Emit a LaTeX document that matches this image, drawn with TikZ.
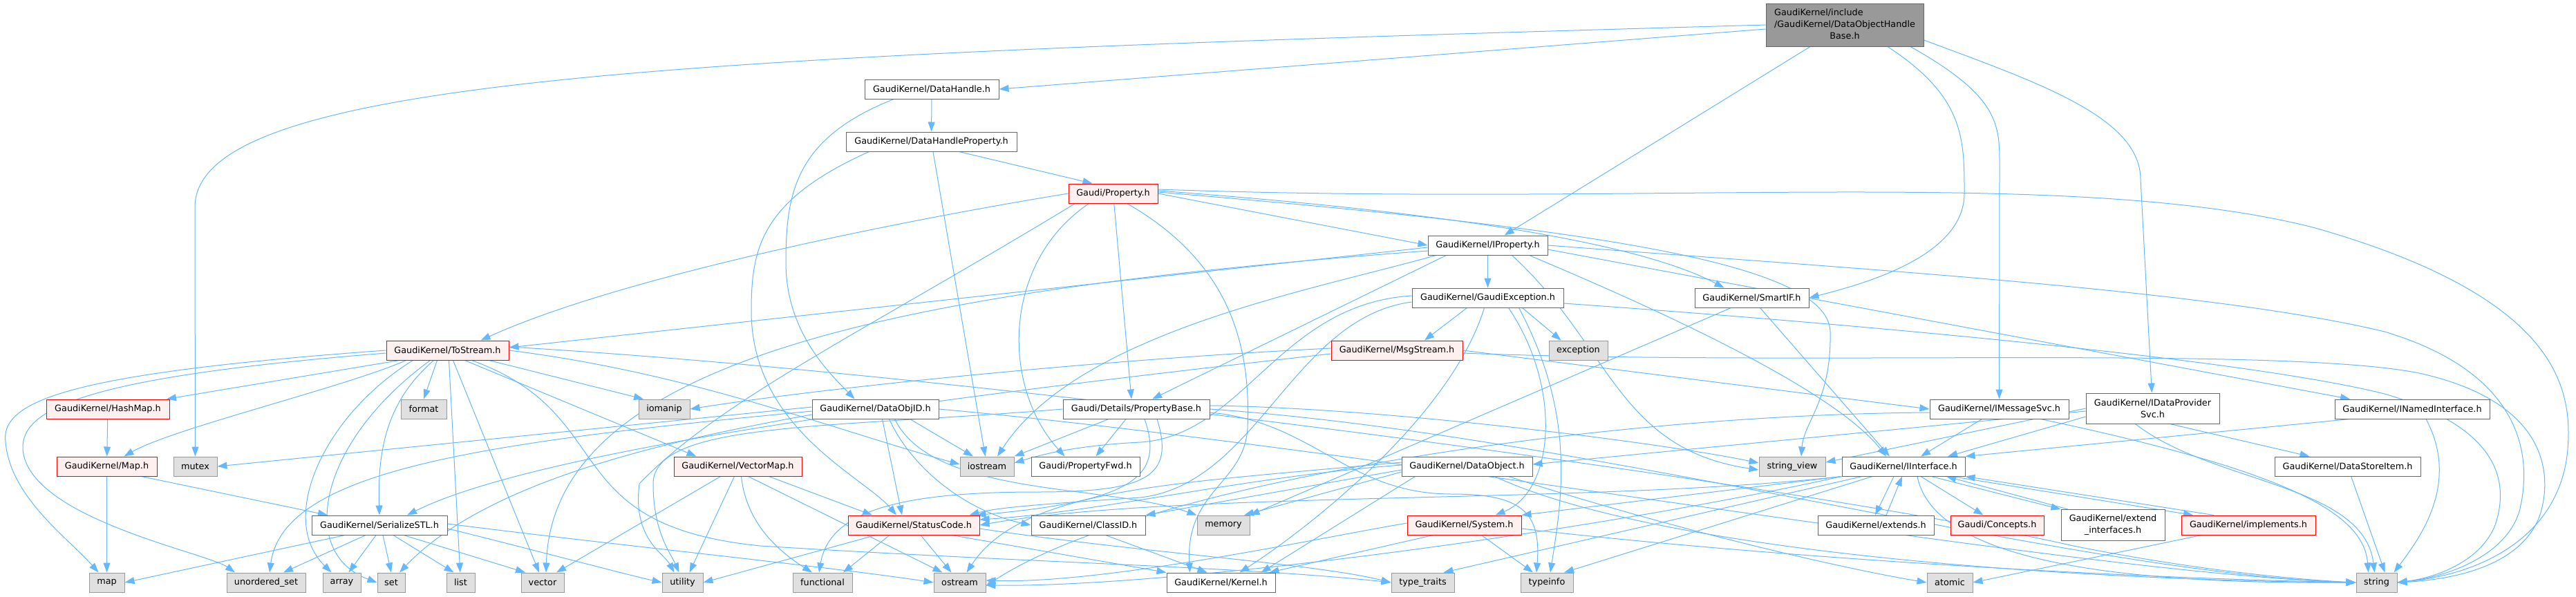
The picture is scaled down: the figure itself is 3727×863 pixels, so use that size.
\documentclass[tikz,border=0pt]{standalone}
\usepackage{fontspec}
\setmainfont{DejaVu Sans}
\usetikzlibrary{arrows.meta}
\definecolor{edgeblue}{HTML}{63B8FF}
\definecolor{boxline}{HTML}{666666}
\definecolor{sysline}{HTML}{999999}
\definecolor{sysfill}{HTML}{E0E0E0}
\definecolor{redfill}{HTML}{FFF0F0}
\definecolor{topfill}{HTML}{999999}
\pgfdeclarelayer{edges}
\pgfsetlayers{edges,main}

\begin{document}
\begin{tikzpicture}[
  x=1pt, y=-1pt,
  >={Triangle[length=14pt,width=10pt]},
  dep/.style={->, draw=edgeblue, line width=1pt},
  file/.style={draw=boxline, fill=white, line width=1pt, minimum height=28pt,
    inner sep=2pt, font=\fontsize{12.8pt}{17pt}\selectfont},
  redfile/.style={file, draw=red, fill=redfill},
  stdfile/.style={file, draw=sysline, fill=sysfill}
]
\useasboundingbox (0,0) rectangle (3727,863);

% files of the graph
\node[file, fill=topfill, minimum width=228pt, minimum height=62pt] (top) at (2669,36)
  {\begin{tabular}{@{}l@{}}GaudiKernel/include\\/GaudiKernel/DataObjectHandle\\\multicolumn{1}{@{}c@{}}{Base.h}\end{tabular}};
\node[file, minimum width=194pt] (dhandle) at (1348,129) {GaudiKernel/DataHandle.h};
\node[file, minimum width=247pt] (dhprop) at (1347.5,205) {GaudiKernel/DataHandleProperty.h};
\node[redfile, minimum width=129pt] (property) at (1610.5,280) {Gaudi/Property.h};
\node[file, minimum width=173pt] (iprop) at (2152.5,355) {GaudiKernel/IProperty.h};
\node[file, minimum width=219pt] (gexcept) at (2152.5,431) {GaudiKernel/GaudiException.h};
\node[file, minimum width=165pt] (smartif) at (2534.5,431) {GaudiKernel/SmartIF.h};
\node[redfile, minimum width=177pt] (tostream) at (647.5,507) {GaudiKernel/ToStream.h};
\node[redfile, minimum width=190pt] (msgstream) at (2021,507) {GaudiKernel/MsgStream.h};
\node[stdfile, minimum width=85pt] (sexception) at (2283.5,507) {exception};
\node[redfile, minimum width=178pt] (hashmap) at (156,592) {GaudiKernel/HashMap.h};
\node[stdfile, minimum width=66pt] (sformat) at (613,592) {format};
\node[stdfile, minimum width=74pt] (siomanip) at (961,592) {iomanip};
\node[file, minimum width=183pt] (dataobjid) at (1266.5,592) {GaudiKernel/DataObjID.h};
\node[file, minimum width=212pt] (propbase) at (1644,592) {Gaudi/Details/PropertyBase.h};
\node[file, minimum width=201pt] (imsgsvc) at (2892.5,592) {GaudiKernel/IMessageSvc.h};
\node[file, minimum width=193pt, minimum height=44pt, align=center] (idpsvc) at (3114.5,591) {GaudiKernel/IDataProvider\\Svc.h};
\node[file, minimum width=224pt] (inamed) at (3490,592) {GaudiKernel/INamedInterface.h};
\node[redfile, minimum width=145pt] (mapk) at (154.5,675) {GaudiKernel/Map.h};
\node[stdfile, minimum width=63pt] (smutex) at (282.5,675) {mutex};
\node[redfile, minimum width=185pt] (vectormap) at (1067.5,675) {GaudiKernel/VectorMap.h};
\node[stdfile, minimum width=78pt] (siostream) at (1428,675) {iostream};
\node[file, minimum width=157pt] (propfwd) at (1570.5,675) {Gaudi/PropertyFwd.h};
\node[file, minimum width=189pt] (dataobject) at (2122.5,675) {GaudiKernel/DataObject.h};
\node[stdfile, minimum width=96pt] (sstringview) at (2593,675) {string\_view};
\node[file, minimum width=178pt] (iinterface) at (2754,675) {GaudiKernel/IInterface.h};
\node[file, minimum width=211pt] (datastoreitem) at (3396.5,675) {GaudiKernel/DataStoreItem.h};
\node[file, minimum width=196pt] (serialize) at (549,760) {GaudiKernel/SerializeSTL.h};
\node[redfile, minimum width=190pt] (statuscode) at (1322,760) {GaudiKernel/StatusCode.h};
\node[file, minimum width=165pt] (classid) at (1574.5,760) {GaudiKernel/ClassID.h};
\node[stdfile, minimum width=76pt] (smemory) at (1770,760) {memory};
\node[redfile, minimum width=165pt] (system) at (2118.5,760) {GaudiKernel/System.h};
\node[file, minimum width=168pt] (extends) at (2714,760) {GaudiKernel/extends.h};
\node[redfile, minimum width=135pt] (concepts) at (2889.5,760) {Gaudi/Concepts.h};
\node[file, minimum width=150pt, minimum height=45pt, align=center] (extendif) at (3057,760) {GaudiKernel/extend\\\_interfaces.h};
\node[redfile, minimum width=194pt] (implements) at (3253,760) {GaudiKernel/implements.h};
\node[stdfile, minimum width=51pt] (smap) at (154.5,843) {map};
\node[stdfile, minimum width=114pt] (suset) at (385,843) {unordered\_set};
\node[stdfile, minimum width=55pt] (sarray) at (494.5,843) {array};
\node[stdfile, minimum width=40pt] (sset) at (566,843) {set};
\node[stdfile, minimum width=41pt] (slist) at (666.5,843) {list};
\node[stdfile, minimum width=62pt] (svector) at (785,843) {vector};
\node[stdfile, minimum width=59pt] (sutility) at (987.5,843) {utility};
\node[stdfile, minimum width=86pt] (sfunctional) at (1190,843) {functional};
\node[stdfile, minimum width=75pt] (sostream) at (1388.5,843) {ostream};
\node[file, minimum width=157pt] (kernel) at (1766.5,843) {GaudiKernel/Kernel.h};
\node[stdfile, minimum width=91pt] (stypetraits) at (2058.5,843) {type\_traits};
\node[stdfile, minimum width=76pt] (stypeinfo) at (2238,843) {typeinfo};
\node[stdfile, minimum width=66pt] (satomic) at (2821,843) {atomic};
\node[stdfile, minimum width=59pt] (sstring) at (3438.5,843) {string};

\begin{pgfonlayer}{edges}
% DataObjectHandleBase.h
\draw[dep] (top.west) .. controls (1000,80) and (282,110) .. (282,300) -- (smutex);
\draw[dep] ([yshift=-6pt]top.west) -- (dhandle.east);
\draw[dep] ([xshift=-50pt]top.south) -- ([xshift=24pt]iprop.north);
\draw[dep] ([xshift=62pt]top.south) .. controls (2842,140) and (2842,200) .. (2842,280) .. controls (2842,370) and (2700,410) .. (smartif.east);
\draw[dep] ([xshift=95pt]top.south) .. controls (2893,140) and (2893,180) .. (2893,240) -- (imsgsvc);
\draw[dep] ([yshift=-22pt]top.east) .. controls (2950,120) and (3097,170) .. (3097,260) -- (idpsvc);
% DataHandle.h
\draw[dep] (dhandle) -- (dhprop);
\draw[dep] ([xshift=-55pt]dhandle.south) .. controls (1150,200) and (1137,280) .. (1137,380) .. controls (1137,480) and (1200,540) .. ([xshift=-30pt]dataobjid.north);
% DataHandleProperty.h
\draw[dep] ([xshift=40pt]dhprop.south) -- ([xshift=-30pt]property.north);
\draw[dep] (dhprop) -- (siostream);
\draw[dep] ([xshift=-90pt]dhprop.south) .. controls (1100,290) and (1087,360) .. (1087,450) .. controls (1087,620) and (1250,690) .. ([xshift=-25pt]statuscode.north);
% Property.h
\draw[dep] (property.west) .. controls (1300,320) and (900,400) .. ([xshift=48pt]tostream.north);
\draw[dep] (property.east) -- (iprop.west);
\draw[dep] ([yshift=4pt]property.east) .. controls (2000,300) and (2350,340) .. ([xshift=-40pt]smartif.north);
\draw[dep] (property) -- ([xshift=-7pt]propbase.north);
\draw[dep] ([xshift=-35pt]property.south) .. controls (1449,380) and (1449,560) .. ([xshift=-30pt]propfwd.north);
\draw[dep] ([xshift=20pt]property.south) .. controls (1780,380) and (1810,500) .. (1805,620) .. controls (1800,700) and (1715,710) .. ([xshift=-45pt]kernel.north);
\draw[dep] ([yshift=6pt]property.east) .. controls (2400,300) and (3000,240) .. (3350,330) .. controls (3700,430) and (3722,560) .. (3715,650) .. controls (3705,770) and (3600,830) .. (sstring.east);
\draw[dep] ([yshift=2pt]property.east) .. controls (2300,330) and (2645,380) .. (2648,480) .. controls (2650,580) and (2610,610) .. ([xshift=13pt]sstringview.north);
\draw[dep] ([xshift=-55pt]property.south) .. controls (1250,480) and (1040,580) .. (925,700) .. controls (915,780) and (960,800) .. ([xshift=-12pt]sutility.north);
% IProperty.h
\draw[dep] (iprop) -- (gexcept);
\draw[dep] ([xshift=60pt]iprop.south) .. controls (2380,440) and (2650,560) .. ([xshift=-25pt]iinterface.north);
\draw[dep] ([xshift=35pt]iprop.south) .. controls (2330,500) and (2340,650) .. ([yshift=-5pt]sstringview.west);
\draw[dep] ([yshift=-3pt]iprop.west) -- ([yshift=4pt]tostream.east);
\draw[dep] ([xshift=-60pt]iprop.south) -- ([xshift=23pt]propbase.north);
\draw[dep] ([xshift=-75pt]iprop.south) .. controls (1900,420) and (1560,480) .. ([xshift=15pt]siostream.north);
\draw[dep] ([yshift=-8pt]iprop.west) .. controls (1300,420) and (800,520) .. ([xshift=5pt]svector.north);
\draw[dep] (iprop.east) .. controls (2700,390) and (3200,420) .. (3450,480) .. controls (3650,540) and (3665,660) .. (3645,740) .. controls (3625,805) and (3540,835) .. (sstring.east);
\draw[dep] ([yshift=-6pt]iprop.east) -- ([xshift=-90pt]inamed.north);
% GaudiException.h
\draw[dep] ([xshift=-30pt]gexcept.south) -- ([xshift=40pt]msgstream.north);
\draw[dep] ([xshift=50pt]gexcept.south) -- ([xshift=-25pt]sexception.north);
\draw[dep] ([xshift=30pt]gexcept.south) .. controls (2260,560) and (2250,710) .. ([xshift=45pt]system.north);
\draw[dep] ([xshift=45pt]gexcept.south) .. controls (2280,600) and (2260,720) .. ([xshift=5pt]stypeinfo.north);
\draw[dep] ([yshift=-6pt]gexcept.west) .. controls (1870,460) and (1820,700) .. (1650,720) .. controls (1500,730) and (1440,735) .. ([xshift=-15pt]statuscode.north east);
\draw[dep] ([yshift=3pt]gexcept.west) .. controls (1850,440) and (1800,630) .. (1650,640) .. controls (1550,645) and (1500,660) .. ([yshift=5pt]siostream.east);
\draw[dep] ([xshift=-5pt]gexcept.south) .. controls (2100,600) and (1900,760) .. ([xshift=27pt]kernel.north);
\draw[dep] ([yshift=-8pt]gexcept.east) .. controls (2700,470) and (3250,520) .. (3450,570) .. controls (3620,620) and (3630,700) .. (3610,760) .. controls (3590,810) and (3530,835) .. (sstring.east);
% SmartIF.h
\draw[dep] ([xshift=12pt]smartif.south) -- ([xshift=-20pt]iinterface.north);
\draw[dep] ([xshift=-30pt]smartif.south) -- (smemory.north east);
% MsgStream.h
\draw[dep] (msgstream.east) -- (imsgsvc.west);
\draw[dep] ([yshift=-4pt]msgstream.east) .. controls (2600,530) and (3300,500) .. (3500,540) .. controls (3680,580) and (3695,680) .. (3675,745) .. controls (3650,815) and (3560,838) .. (sstring.east);
\draw[dep] ([yshift=3pt]msgstream.west) .. controls (1600,520) and (1200,560) .. (siomanip.east);
\draw[dep] ([yshift=-5pt]msgstream.west) .. controls (1500,560) and (800,640) .. ([xshift=40pt]serialize.north);
% ToStream.h
\draw[dep] (tostream.west) .. controls (100,540) and (0,580) .. (8,640) .. controls (15,720) and (100,780) .. ([xshift=-12pt]smap.north);
\draw[dep] ([yshift=-4pt]tostream.west) .. controls (130,545) and (30,590) .. (33,650) .. controls (40,750) and (300,800) .. ([xshift=-45pt]suset.north);
\draw[dep] ([xshift=-70pt]tostream.south) -- ([xshift=85pt]hashmap.north);
\draw[dep] ([xshift=-60pt]tostream.south) .. controls (500,560) and (250,620) .. ([xshift=25pt]mapk.north);
\draw[dep] ([xshift=-50pt]tostream.south) .. controls (470,600) and (400,750) .. ([xshift=-15pt]sarray.north);
\draw[dep] ([xshift=-25pt]tostream.south) .. controls (460,640) and (430,800) .. (sset.west);
\draw[dep] ([xshift=-20pt]tostream.south) .. controls (560,580) and (546,650) .. (serialize.north);
\draw[dep] ([xshift=-15pt]tostream.south) -- (sformat.north);
\draw[dep] ([xshift=2pt]tostream.south) -- (slist);
\draw[dep] ([xshift=8pt]tostream.south) -- ([xshift=-5pt]svector.north);
\draw[dep] ([xshift=25pt]tostream.south) -- ([xshift=-60pt]vectormap.north);
\draw[dep] ([xshift=35pt]tostream.south) .. controls (900,600) and (800,760) .. (1100,790) .. controls (1500,815) and (1800,820) .. (stypetraits.west);
\draw[dep] ([xshift=60pt]tostream.south) -- ([xshift=-30pt]siomanip.north);
\draw[dep] (tostream.east) .. controls (1000,540) and (1200,620) .. ([yshift=3pt]siostream.west);
\draw[dep] ([yshift=5pt]tostream.east) .. controls (1400,540) and (2600,700) .. (3000,790) .. controls (3200,830) and (3350,840) .. (sstring.west);
% HashMap.h, Map.h
\draw[dep] (hashmap) -- (mapk);
\draw[dep] (mapk) -- (smap);
\draw[dep] ([xshift=50pt]mapk.south) -- ([xshift=-75pt]serialize.north);
% SerializeSTL.h
\draw[dep] ([xshift=-50pt]serialize.south) -- (smap.east);
\draw[dep] ([xshift=-20pt]serialize.south) -- ([xshift=25pt]suset.north);
\draw[dep] ([xshift=-5pt]serialize.south) -- ([xshift=10pt]sarray.north);
\draw[dep] ([xshift=5pt]serialize.south) -- (sset.north);
\draw[dep] ([xshift=20pt]serialize.south) -- ([xshift=-10pt]slist.north);
\draw[dep] ([xshift=35pt]serialize.south) -- ([xshift=-25pt]svector.north);
\draw[dep] ([yshift=-5pt]serialize.east) .. controls (750,790) and (900,830) .. (sutility.west);
\draw[dep] ([yshift=2pt]serialize.east) .. controls (900,790) and (1200,820) .. (sostream.west);
% VectorMap.h
\draw[dep] ([xshift=-25pt]vectormap.south) -- ([xshift=20pt]svector.north);
\draw[dep] ([xshift=-5pt]vectormap.south) -- ([xshift=10pt]sutility.north);
\draw[dep] ([xshift=5pt]vectormap.south) .. controls (1080,760) and (1130,800) .. ([xshift=-15pt]sfunctional.north);
\draw[dep] ([xshift=15pt]vectormap.south) -- ([xshift=-25pt]sostream.north);
\draw[dep] ([xshift=45pt]vectormap.south) -- ([xshift=-60pt]statuscode.north);
% DataObjID.h
\draw[dep] ([yshift=3pt]dataobjid.west) -- (smutex.east);
\draw[dep] ([yshift=-3pt]dataobjid.west) .. controls (700,640) and (410,680) .. ([xshift=5pt]suset.north);
\draw[dep] ([yshift=-8pt]dataobjid.west) .. controls (950,640) and (700,700) .. ([xshift=12pt]sset.north);
\draw[dep] ([xshift=10pt]dataobjid.south) -- ([xshift=-17pt]statuscode.north);
\draw[dep] ([xshift=20pt]dataobjid.south) .. controls (1320,680) and (1400,740) .. (classid.west);
\draw[dep] ([xshift=28pt]dataobjid.south) .. controls (1350,720) and (1600,700) .. (smemory.north west);
\draw[dep] ([xshift=50pt]dataobjid.south) -- ([xshift=-20pt]siostream.north);
\draw[dep] (dataobjid.east) .. controls (2000,650) and (3000,830) .. (sstring.west);
% PropertyBase.h
\draw[dep] ([xshift=-40pt]propbase.south) -- (siostream.north east);
\draw[dep] ([xshift=-15pt]propbase.south) -- ([xshift=15pt]propfwd.north);
\draw[dep] ([xshift=12pt]propbase.south) .. controls (1685,690) and (1640,725) .. ([xshift=-5pt]statuscode.north east);
\draw[dep] (propbase.west) .. controls (1200,620) and (945,610) .. (945,700) .. controls (945,770) and (970,800) .. ([xshift=-5pt]sutility.north);
\draw[dep] ([xshift=30pt]propbase.south) .. controls (1700,690) and (1660,712) .. (1500,712) .. controls (1300,712) and (1200,740) .. ([xshift=-5pt]sfunctional.north);
\draw[dep] ([yshift=5pt]propbase.east) .. controls (2000,590) and (2400,640) .. ([yshift=5pt]sstringview.west);
\draw[dep] (propbase.east) .. controls (2300,630) and (3000,830) .. (sstring.west);
\draw[dep] ([yshift=-5pt]propbase.east) .. controls (1900,610) and (1950,715) .. (2100,715) .. controls (2200,715) and (2230,740) .. ([xshift=-15pt]stypeinfo.north);
% StatusCode.h
\draw[dep] ([xshift=-55pt]statuscode.south) -- (sutility.east);
\draw[dep] ([xshift=-35pt]statuscode.south) -- ([xshift=30pt]sfunctional.north);
\draw[dep] ([xshift=10pt]statuscode.south) -- ([xshift=-12pt]sostream.north);
\draw[dep] ([xshift=55pt]statuscode.south) -- (kernel.north west);
\draw[dep] ([yshift=-5pt]statuscode.east) .. controls (1650,800) and (1900,815) .. (stypetraits.west);
% ClassID.h
\draw[dep] ([xshift=25pt]classid.south) -- ([xshift=-20pt]kernel.north);
% DataObject.h
\draw[dep] ([yshift=-5pt]dataobject.west) -- (classid.north east);
\draw[dep] ([yshift=2pt]dataobject.west) .. controls (1800,690) and (1600,740) .. ([yshift=8pt]statuscode.east);
\draw[dep] ([yshift=-8pt]dataobject.west) -- ([xshift=30pt]smemory.north);
\draw[dep] ([yshift=6pt]dataobject.west) .. controls (1700,700) and (1480,705) .. ([xshift=10pt]sostream.north);
\draw[dep] ([xshift=-75pt]dataobject.south) -- ([xshift=58pt]kernel.north);
\draw[dep] ([xshift=40pt]dataobject.south) .. controls (2400,800) and (3000,840) .. (sstring.west);
\draw[dep] ([xshift=60pt]dataobject.south) .. controls (2400,760) and (2650,820) .. (satomic.west);
% System.h
\draw[dep] ([xshift=-45pt]system.south) -- ([xshift=70pt]kernel.north);
\draw[dep] ([yshift=3pt]system.west) .. controls (1900,780) and (1600,845) .. ([yshift=3pt]sostream.east);
\draw[dep] ([xshift=25pt]system.south) -- ([xshift=-20pt]stypeinfo.north);
\draw[dep] ([yshift=-5pt]system.east) .. controls (2500,800) and (3000,835) .. (sstring.west);
% IInterface.h
\draw[dep] (iinterface.south west) -- (system.north east);
\draw[dep] (iinterface.south west) .. controls (2300,730) and (1700,710) .. (statuscode.east);
\draw[dep] (iinterface.south west) .. controls (2300,770) and (1700,850) .. ([yshift=-4pt]sostream.east);
\draw[dep] ([xshift=-60pt]iinterface.south) -- ([xshift=30pt]stypetraits.north);
\draw[dep] ([xshift=-45pt]iinterface.south) -- ([xshift=25pt]stypeinfo.north);
\draw[dep] ([xshift=20pt]iinterface.south) .. controls (2800,820) and (3100,845) .. (sstring.west);
\draw[dep] ([xshift=-14pt]iinterface.south) -- ([xshift=-1pt]extends.north);
\draw[dep] ([xshift=25pt]iinterface.south) -- ([xshift=-20pt]concepts.north);
\draw[dep] ([xshift=40pt]iinterface.south) -- (extendif.north west);
\draw[dep] ([xshift=70pt]iinterface.south) -- ([xshift=-80pt]implements.north);
% extends.h, extend_interfaces.h, implements.h
\draw[dep] ([xshift=15pt]extends.north) -- ([xshift=-2pt]iinterface.south);
\draw[dep] ([xshift=-65pt]extendif.north) -- ([xshift=62pt]iinterface.south);
\draw[dep] ([xshift=-50pt]implements.north) -- (iinterface.south east);
\draw[dep] ([xshift=-68pt]implements.south) -- (satomic.east);
% IMessageSvc.h
\draw[dep] ([xshift=-25pt]imsgsvc.south) -- ([xshift=25pt]iinterface.north);
\draw[dep] ([yshift=-5pt]imsgsvc.west) .. controls (2300,600) and (1650,700) .. ([yshift=-5pt]sostream.east);
\draw[dep] ([xshift=60pt]imsgsvc.south) .. controls (3300,680) and (3420,740) .. ([xshift=-12pt]sstring.north);
% IDataProviderSvc.h
\draw[dep] ([yshift=-12pt]idpsvc.west) -- ([xshift=64pt]iinterface.north);
\draw[dep] ([yshift=-4pt]idpsvc.west) -- ([yshift=3pt]dataobject.east);
\draw[dep] (idpsvc.west) -- ([yshift=6pt]sstringview.east);
\draw[dep] ([xshift=25pt]idpsvc.south) -- ([xshift=-55pt]datastoreitem.north);
\draw[dep] ([xshift=-25pt]idpsvc.south) .. controls (3200,700) and (3420,700) .. ([xshift=-3pt]sstring.north);
% INamedInterface.h, DataStoreItem.h
\draw[dep] ([xshift=-90pt]inamed.south) -- (iinterface.north east);
\draw[dep] ([xshift=20pt]inamed.south) .. controls (3560,700) and (3500,780) .. ([xshift=25pt]sstring.north);
\draw[dep] (datastoreitem) -- ([xshift=12pt]sstring.north);
\end{pgfonlayer}
\end{tikzpicture}
\end{document}
